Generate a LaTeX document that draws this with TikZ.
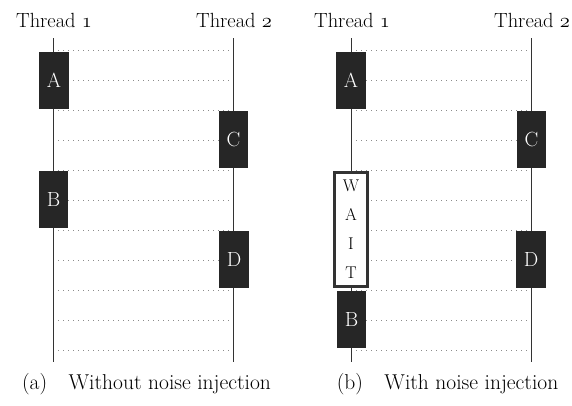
\RequirePackage{fix-cm}
\documentclass[tikz,border=0pt]{standalone}
\newcommand{\osf}[1]{{\usefont{OML}{cmm}{m}{it}#1}}
\begin{document}
\begin{tikzpicture}[x=1pt,y=-1pt,
  lbl/.style={font=\fontsize{20.5}{22}\selectfont, inner sep=0pt, anchor=base},
  lane/.style={draw=black!80, line width=0.8pt},
  gridline/.style={draw=black!45, line width=0.7pt, dash pattern=on 0.8pt off 4.2pt},
  task/.style={fill=black!85, text=white, font=\fontsize{20.5}{22}\selectfont,
    inner xsep=8pt, inner ysep=0pt, minimum height=57pt},
  waitbox/.style={draw=black!80, line width=2.5pt, fill=white,
    font=\fontsize{17}{29}\selectfont, align=center,
    minimum width=33pt, minimum height=114pt, inner sep=0pt},
  subcap/.style={font=\fontsize{21.5}{23}\selectfont, inner sep=0pt, anchor=base}]
\useasboundingbox (0,0) rectangle (572,405);

% ---------- (a) without noise injection ----------
\coordinate (a1top) at (53,38);  \coordinate (a1bot) at (53,362);
\coordinate (a2top) at (233,38); \coordinate (a2bot) at (233,362);
\foreach \y in {50,80,...,350} \draw[gridline] (53,\y) -- (233,\y);
\draw[lane] (a1top) -- (a1bot);
\draw[lane] (a2top) -- (a2bot);
\node[lbl] (a1lbl) at (54,27) {Thread \osf{1}};
\node[lbl] (a2lbl) at (234,27) {Thread \osf{2}};
\node[task] (aA) at (54,80.5)    {A};
\node[task] (aC) at (233.5,139.5) {C};
\node[task] (aB) at (53.5,199.5) {B};
\node[task] (aD) at (234,259.5)  {D};
\node[subcap] (capa) at (146.5,389) {(a)\quad Without noise injection};

% ---------- (b) with noise injection ----------
\coordinate (b1top) at (351,38);  \coordinate (b1bot) at (351,362);
\coordinate (b2top) at (531,38);  \coordinate (b2bot) at (531,362);
\foreach \y in {50,80,...,350} \draw[gridline] (351,\y) -- (531,\y);
\draw[lane] (b1top) -- (b1bot);
\draw[lane] (b2top) -- (b2bot);
\node[lbl] (b1lbl) at (352,27) {Thread \osf{1}};
\node[lbl] (b2lbl) at (532,27) {Thread \osf{2}};
\node[task] (bA) at (351,80.5)    {A};
\node[task] (bC) at (531.5,139.5) {C};
\node[waitbox] (bW) at (351,229.5) {W\\A\\I\\T};
\node[task] (bD) at (531,259.5)   {D};
\node[task] (bB) at (351.5,319.5) {B};
\node[subcap] (capb) at (447.5,389) {(b)\quad With noise injection};
\end{tikzpicture}
\end{document}
